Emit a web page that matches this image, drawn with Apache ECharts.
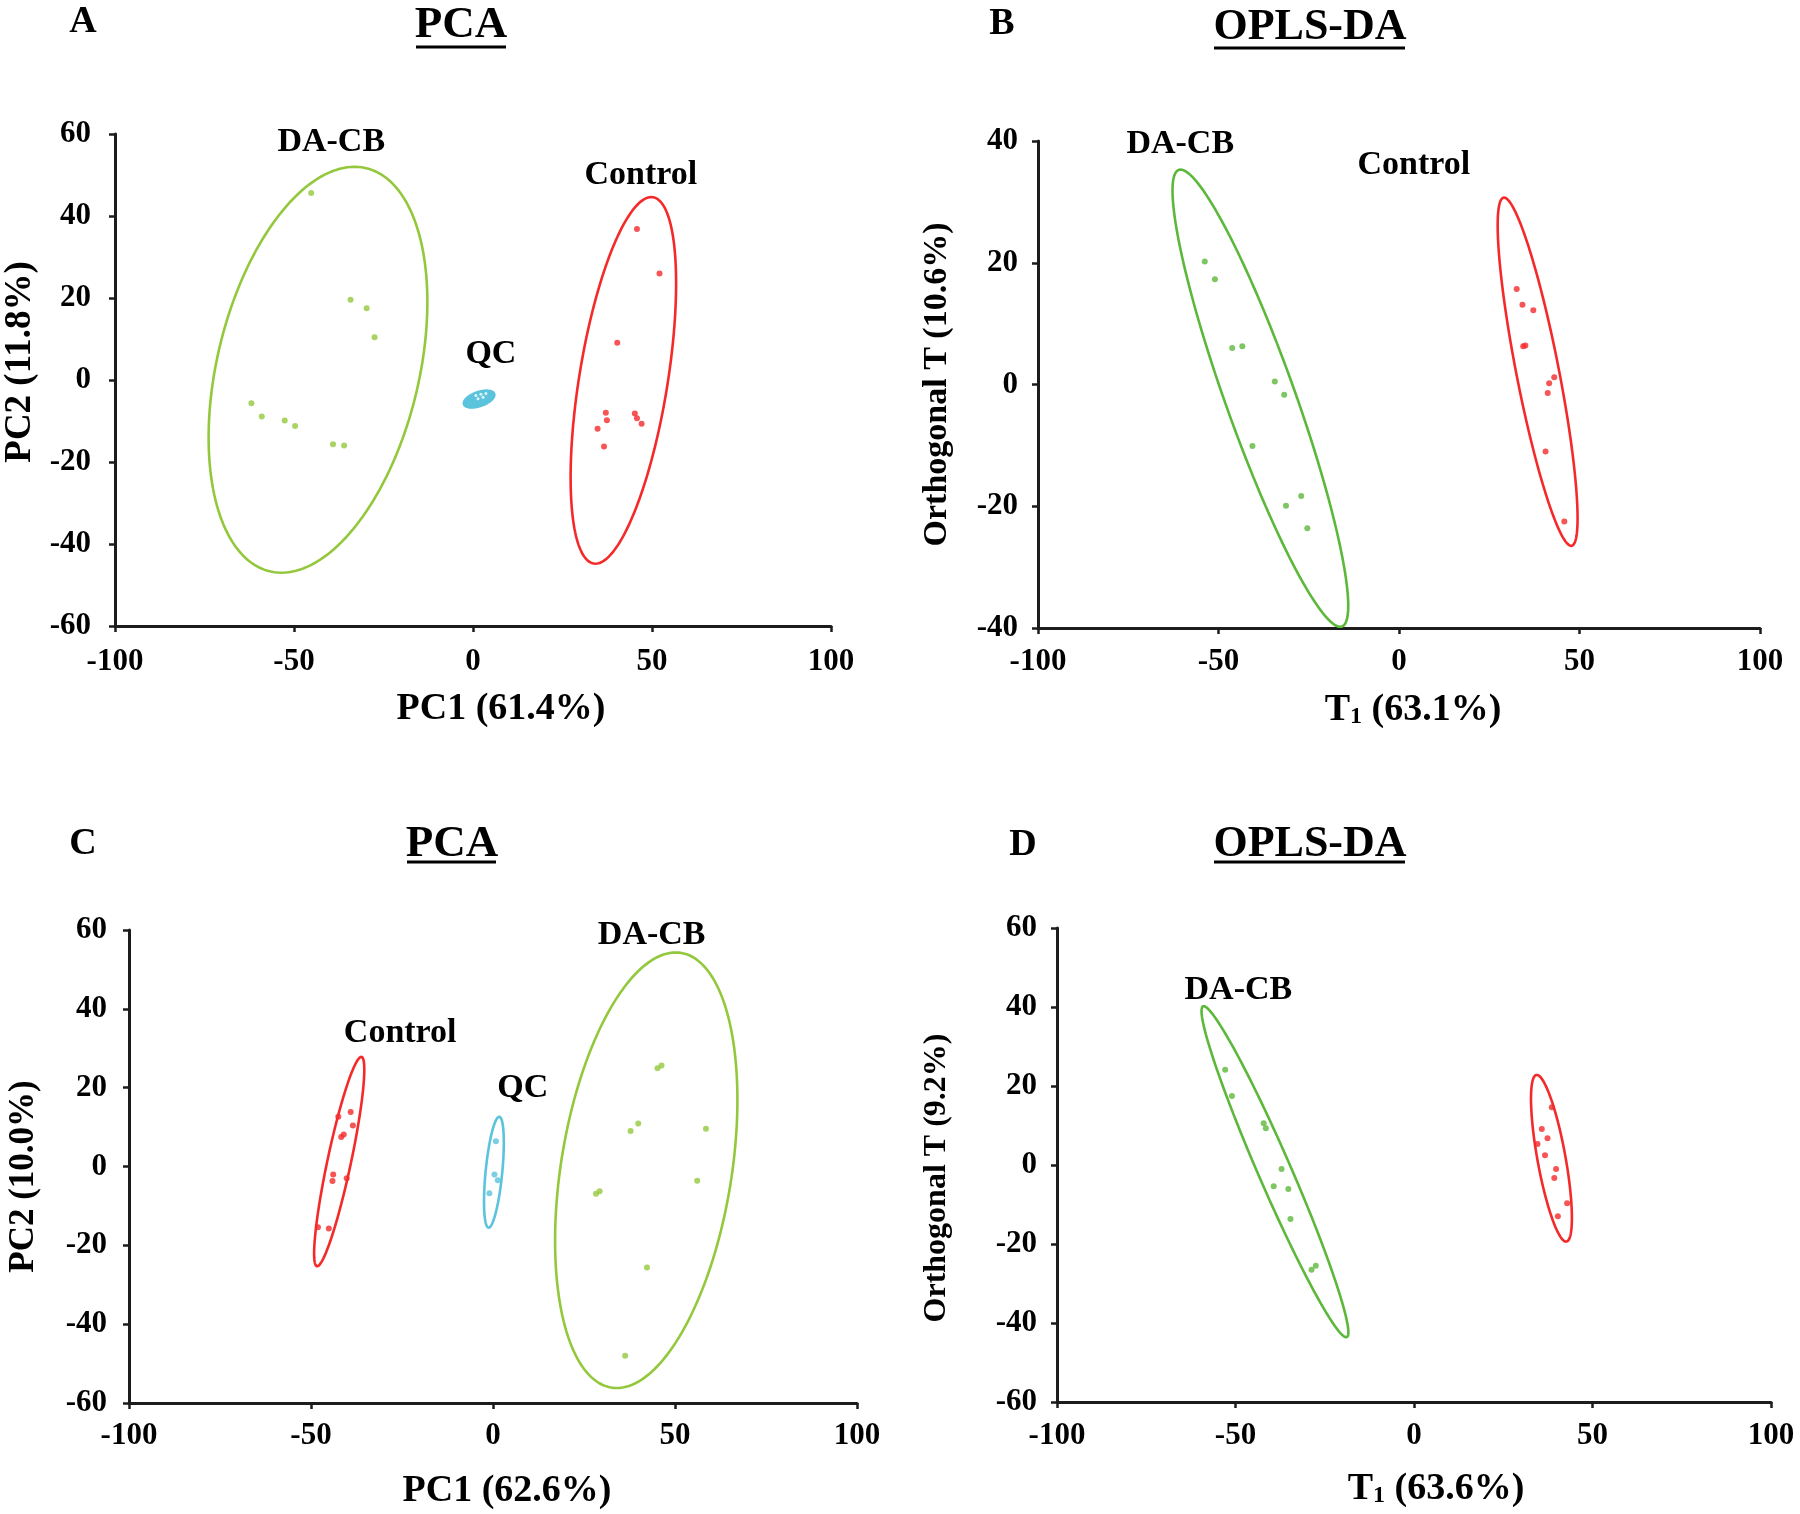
<!DOCTYPE html>
<html>
<head>
<meta charset="utf-8">
<script src="https://cdn.jsdelivr.net/npm/echarts@6/dist/echarts.min.js"></script>
<style>
html,body{margin:0;padding:0;background:#fff;}
#chart{width:1800px;height:1514px;}
</style>
</head>
<body>
<div id="chart"></div>
<script>
// ---------- data ----------
var xTicks = [-100, -50, 0, 50, 100];
var yTicksA = [-60, -40, -20, 0, 20, 40, 60];
var yTicksB = [-40, -20, 0, 20, 40];

// Panel A (PCA)
var aDaCb = [[-45.2,45.6],[-34.2,19.6],[-29.7,17.5],[-27.5,10.4],[-61.9,-5.7],[-59.0,-8.9],[-52.6,-9.9],[-49.7,-11.2],[-39.1,-15.7],[-36.0,-16.0]];
var aControl = [[45.8,36.8],[52.1,26.0],[40.3,9.1],[37.1,-8.0],[37.4,-9.8],[34.8,-11.9],[36.6,-16.2],[45.2,-8.2],[45.8,-9.3],[47.1,-10.7]];
var aQc = [[0.8,-3.8],[2.2,-3.5],[3.6,-3.3],[1.4,-4.6],[2.8,-4.2]];
// ellipse: [centerX, centerY, topX, topY, half width on horizontal through centre]
var aEllDaCb = [[-43.3,2.5,-33.1,52.0,28.8]];
var aEllControl = [[42.0,-0.1,49.8,44.6,12.5]];
var aEllQc = [[1.7,-4.65,3.8,-2.6,3.7]];
var aLabels = [[-39.6,57.9,'DA-CB'],[46.9,50.0,'Control'],[5.0,6.3,'QC']];

// Panel B (OPLS-DA)
var bDaCb = [[-53.8,20.2],[-51.0,17.3],[-46.2,6.0],[-43.4,6.3],[-34.4,0.5],[-31.8,-1.7],[-40.6,-10.1],[-31.3,-19.9],[-27.1,-18.3],[-25.4,-23.6]];
var bControl = [[32.6,15.7],[34.2,13.1],[37.2,12.2],[34.4,6.3],[35.0,6.4],[43.0,1.2],[41.6,0.2],[41.2,-1.4],[40.6,-11.0],[45.8,-22.5]];
var bEllDaCb = [[-38.4,-2.25,-60.5,35.3,10.2]];
var bEllControl = [[38.4,2.1,29.1,30.7,6.0]];
var bLabels = [[-60.6,39.5,'DA-CB'],[4.1,36.1,'Control']];

// Panel C (PCA)
var cDaCb = [[45.2,24.9],[46.3,25.6],[37.8,9.0],[39.9,10.9],[58.5,9.6],[56.1,-3.6],[28.3,-6.9],[29.3,-6.3],[42.3,-25.6],[36.3,-48.0]];
var cControl = [[-42.5,12.6],[-39.1,13.8],[-38.5,10.4],[-41.7,7.5],[-41.0,8.1],[-43.9,-2.0],[-44.1,-3.7],[-40.2,-3.0],[-48.1,-15.4],[-45.1,-15.7]];
var cQc = [[0.8,6.4],[0.4,-2.0],[1.3,-3.5],[-1.0,-6.8]];
var cEllDaCb = [[42.1,-0.95,50.2,54.3,23.7]];
var cEllControl = [[-42.25,1.25,-36.2,27.8,3.3]];
var cEllQc = [[0.25,-1.45,1.7,12.6,2.3]];
var cLabels = [[43.6,58.6,'DA-CB'],[-25.5,33.8,'Control'],[8.2,19.9,'QC']];

// Panel D (OPLS-DA)
var dDaCb = [[-52.9,24.1],[-51.0,17.5],[-42.1,10.6],[-41.5,9.3],[-37.1,-1.0],[-39.3,-5.4],[-35.2,-6.1],[-34.6,-13.7],[-28.7,-26.5],[-27.5,-25.5]];
var dControl = [[38.6,14.6],[35.8,9.1],[37.4,6.8],[34.6,5.3],[36.7,2.5],[39.8,-1.0],[39.3,-3.3],[42.9,-9.7],[40.3,-13.0]];
var dEllDaCb = [[-38.95,-1.7,-58.9,40.2,5.0]];
var dEllControl = [[38.5,1.7,34.4,22.8,4.0]];
var dLabels = [[-49.2,44.2,'DA-CB']];

// ---------- styles ----------
var FONT = "'Liberation Serif','Times New Roman',serif";
var GREEN1 = '#94c83c', GREEN2 = '#5cb83a', RED = '#f42a2a', CYAN = '#5bc3dc';

function ellipseSeries(idx, data, color, fill) {
  return {
    type: 'custom', xAxisIndex: idx, yAxisIndex: idx, silent: true, z: 2,
    encode: {x: [0, 2], y: [1, 3]},
    data: data,
    renderItem: function (params, api) {
      var cx = api.value(0), cy = api.value(1), tx = api.value(2), ty = api.value(3), hw = api.value(4);
      var pts = [];
      for (var i = 0; i < 180; i++) {
        var t = i / 180 * Math.PI * 2;
        pts.push(api.coord([cx + (tx - cx) * Math.sin(t) + hw * Math.cos(t), cy + (ty - cy) * Math.sin(t)]));
      }
      return {type: 'polygon', shape: {points: pts}, style: {fill: fill || 'none', stroke: color, lineWidth: 2.6}};
    }
  };
}
function pointSeries(idx, data, color, size) {
  return {type: 'scatter', xAxisIndex: idx, yAxisIndex: idx, silent: true, z: 3,
    symbolSize: size || 6, itemStyle: {color: color}, data: data};
}
function labelSeries(idx, data) {
  return {type: 'custom', xAxisIndex: idx, yAxisIndex: idx, silent: true, z: 4,
    encode: {x: 0, y: 1},
    data: data,
    renderItem: function (params, api) {
      var p = api.coord([api.value(0), api.value(1)]);
      return {type: 'text', x: p[0], y: p[1],
        style: {text: data[params.dataIndex][2], fill: '#000', fontFamily: FONT, fontWeight: 'bold',
          fontSize: 34, textAlign: 'center', textVerticalAlign: 'middle'}};
    }};
}

var grids = [
  {left: 115, top: 134, width: 716, height: 492},
  {left: 1038, top: 141, width: 722, height: 487},
  {left: 129, top: 930, width: 728, height: 473},
  {left: 1057, top: 928, width: 714, height: 474}
];
var axisLineStyle = {color: '#1c1c1c', width: 3};
var tickLabel = {fontFamily: FONT, fontWeight: 'bold', fontSize: 31, color: '#000'};

function xAxis(idx, name, rich, gap, padLeft, margin) {
  return {type: 'value', gridIndex: idx, min: xTicks[0], max: xTicks[xTicks.length - 1], interval: 50,
    splitLine: {show: false},
    axisLine: {show: true, onZero: false, lineStyle: axisLineStyle},
    axisTick: {show: true, length: 6, lineStyle: {color: '#1c1c1c', width: 2.5}},
    axisLabel: Object.assign({margin: margin}, tickLabel),
    name: name, nameLocation: 'middle', nameGap: gap,
    nameTextStyle: {fontFamily: FONT, fontWeight: 'bold', fontSize: 38, color: '#000',
      padding: [0, 0, 0, padLeft], rich: rich}};
}
function yAxis(idx, ticks, name, gap, fs, pad, margin) {
  return {type: 'value', gridIndex: idx, min: ticks[0], max: ticks[ticks.length - 1], interval: 20,
    splitLine: {show: false},
    axisLine: {show: true, onZero: false, lineStyle: axisLineStyle},
    axisTick: {show: true, length: 6, lineStyle: {color: '#1c1c1c', width: 2.5}},
    axisLabel: Object.assign({margin: margin}, tickLabel),
    name: name, nameLocation: 'middle', nameGap: gap,
    nameTextStyle: {fontFamily: FONT, fontWeight: 'bold', fontSize: fs, color: '#000', padding: pad}};
}
var subRich = {
  sub: {fontFamily: FONT, fontWeight: 'bold', fontSize: 24, color: '#000', lineHeight: 14, verticalAlign: 'bottom'}
};

function titleText(x, y, text, size) {
  return {type: 'text', x: x, y: y, silent: true,
    style: {text: text, fontFamily: FONT, fontWeight: 'bold', fontSize: size, fill: '#000',
      textAlign: 'center', textVerticalAlign: 'middle'}};
}
function underline(x1, x2, y) {
  return {type: 'rect', silent: true, shape: {x: x1, y: y - 1.5, width: x2 - x1, height: 3}, style: {fill: '#000'}};
}

var option = {
  backgroundColor: '#fff',
  animation: false,
  grid: grids,
  xAxis: [
    xAxis(0, 'PC1 (61.4%)', null, 64, 56, 20),
    xAxis(1, 'T{sub|1} (63.1%)', subRich, 63, 28, 18),
    xAxis(2, 'PC1 (62.6%)', null, 69, 28, 17),
    xAxis(3, 'T{sub|1} (63.6%)', subRich, 68, 44, 18)
  ],
  yAxis: [
    yAxis(0, yTicksA, 'PC2 (11.8%)', 76, 37, [0, 0, 0, 36], 24),
    yAxis(1, yTicksB, 'Orthogonal T (10.6%)', 84, 34, [0, 0, 0, 0], 20),
    yAxis(2, yTicksA, 'PC2 (10.0%)', 88, 35, [0, 20, 0, 0], 22),
    yAxis(3, yTicksA, 'Orthogonal T (9.2%)', 104, 32, [0, 26, 0, 0], 20)
  ],
  graphic: [
    titleText(83, 22, 'A', 38), titleText(461, 25, 'PCA', 45), underline(416, 506, 47),
    titleText(1002, 24, 'B', 38), titleText(1310, 28, 'OPLS-DA', 44), underline(1214, 1405, 48),
    titleText(83, 844, 'C', 38), titleText(452, 844, 'PCA', 45), underline(407, 496, 862),
    titleText(1023, 845, 'D', 38), titleText(1310, 845, 'OPLS-DA', 44), underline(1214, 1405, 862)
  ],
  series: [
    ellipseSeries(0, aEllDaCb, GREEN1), ellipseSeries(0, aEllControl, RED), ellipseSeries(0, aEllQc, CYAN, CYAN),
    pointSeries(0, aDaCb, GREEN1), pointSeries(0, aControl, RED), pointSeries(0, aQc, '#ffffff', 3),
    labelSeries(0, aLabels),

    ellipseSeries(1, bEllDaCb, GREEN2), ellipseSeries(1, bEllControl, RED),
    pointSeries(1, bDaCb, GREEN2), pointSeries(1, bControl, RED),
    labelSeries(1, bLabels),

    ellipseSeries(2, cEllDaCb, GREEN1), ellipseSeries(2, cEllControl, RED), ellipseSeries(2, cEllQc, CYAN),
    pointSeries(2, cDaCb, GREEN1), pointSeries(2, cControl, RED), pointSeries(2, cQc, CYAN),
    labelSeries(2, cLabels),

    ellipseSeries(3, dEllDaCb, GREEN2), ellipseSeries(3, dEllControl, RED),
    pointSeries(3, dDaCb, GREEN2), pointSeries(3, dControl, RED),
    labelSeries(3, dLabels)
  ]
};
var chart = echarts.init(document.getElementById('chart'), null, {renderer: 'canvas'});
chart.setOption(option);
</script>
</body>
</html>
